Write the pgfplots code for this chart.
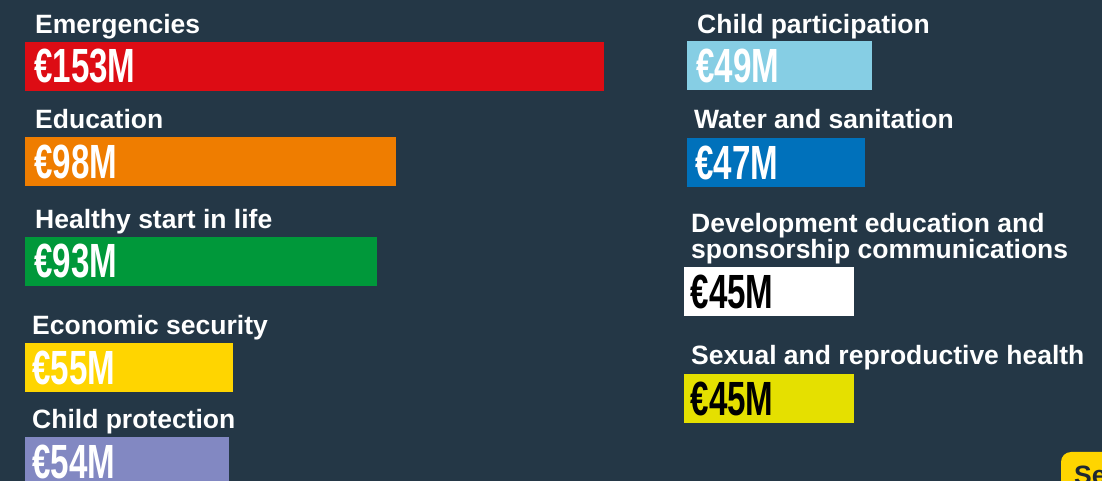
\documentclass[border=0pt]{standalone}
\usepackage{fontspec}
\setmainfont{Liberation Sans}
\usepackage{graphicx}
\usepackage{pgfplots}
\pgfplotsset{compat=1.18}
\definecolor{bg}{RGB}{36,55,70}
\definecolor{cred}{RGB}{221,12,20}
\definecolor{corange}{RGB}{239,125,0}
\definecolor{cgreen}{RGB}{0,152,58}
\definecolor{cyellow}{RGB}{255,213,0}
\definecolor{clav}{RGB}{130,136,194}
\definecolor{clblue}{RGB}{134,206,228}
\definecolor{cblue}{RGB}{0,113,187}
\definecolor{cwhite}{RGB}{255,255,255}
\definecolor{clime}{RGB}{229,224,0}
\definecolor{cdark}{RGB}{30,40,50}
\newcommand{\lab}{\fontsize{26.5}{26.5}\selectfont\bfseries}
\newcommand{\val}[1]{\scalebox{0.69}[1]{\fontsize{48}{48}\selectfont\bfseries #1}}
\begin{document}
\begin{tikzpicture}[x=1pt,y=1pt]
\useasboundingbox (0,0) rectangle (1102,481);
\clip (0,0) rectangle (1102,481);
\fill[bg] (0,0) rectangle (1102,481);
\pgfplotsset{bararea/.style={scale only axis, hide axis, height=481pt, ymin=0, ymax=481, y dir=reverse, xmin=0, anchor=south west},
  hb/.style={xbar, bar shift=0pt, bar width=49pt, draw=none, fill=#1}}
% left column
\begin{axis}[bararea, at={(25pt,0pt)}, width=600pt, xmax=158.52]
\addplot[hb=cred] coordinates {(153,66.5)};
\addplot[hb=corange] coordinates {(98,161.5)};
\addplot[hb=cgreen] coordinates {(93,261.5)};
\addplot[hb=cyellow] coordinates {(55,367.5)};
\addplot[hb=clav] coordinates {(54,461.5)};
\end{axis}
% right column
\begin{axis}[bararea, at={(687pt,0pt)}, width=400pt, xmax=105.68]
\addplot[hb=clblue] coordinates {(49,65.5)};
\addplot[hb=cblue] coordinates {(47,162.5)};
\end{axis}
\begin{axis}[bararea, at={(684pt,0pt)}, width=400pt, xmax=105.68]
\addplot[hb=cwhite] coordinates {(45,291.5)};
\addplot[hb=clime] coordinates {(45,398.5)};
\end{axis}
% category labels
\begin{scope}[every node/.style={anchor=base west, inner sep=0pt, text=white, font=\lab}]
\node at (35,481-33.3) {Emergencies};
\node at (35,481-129) {Education};
\node at (35,481-228.5) {Healthy start in life};
\node at (32,481-335) {Economic security};
\node at (32,481-428.3) {Child protection};
\node at (697,481-33.3) {Child participation};
\node at (694,481-128.3) {Water and sanitation};
\node at (691,481-232.3) {Development education and};
\node at (691,481-258.6) {sponsorship communications};
\node at (691,481-365) {Sexual and reproductive health};
\end{scope}
% value labels
\begin{scope}[every node/.style={anchor=west, inner sep=0pt, text=white}]
\node at (34,481-66.5) {\val{€153M}};
\node at (34,481-161.5) {\val{€98M}};
\node at (34,481-261.5) {\val{€93M}};
\node at (32,481-367.5) {\val{€55M}};
\node at (32,481-461.5) {\val{€54M}};
\node at (696,481-65.5) {\val{€49M}};
\node at (695,481-162.5) {\val{€47M}};
\node[text=black] at (690.5,481-291.5) {\val{€45M}};
\node[text=black] at (690.5,481-398.5) {\val{€45M}};
\end{scope}
% partial button
\fill[cyellow, rounded corners=10pt] (1061,481-452) rectangle (1140,-40);
\node[anchor=base west, inner sep=0pt, text=cdark, font=\lab] at (1074,481-485) {Se};
\end{tikzpicture}
\end{document}
